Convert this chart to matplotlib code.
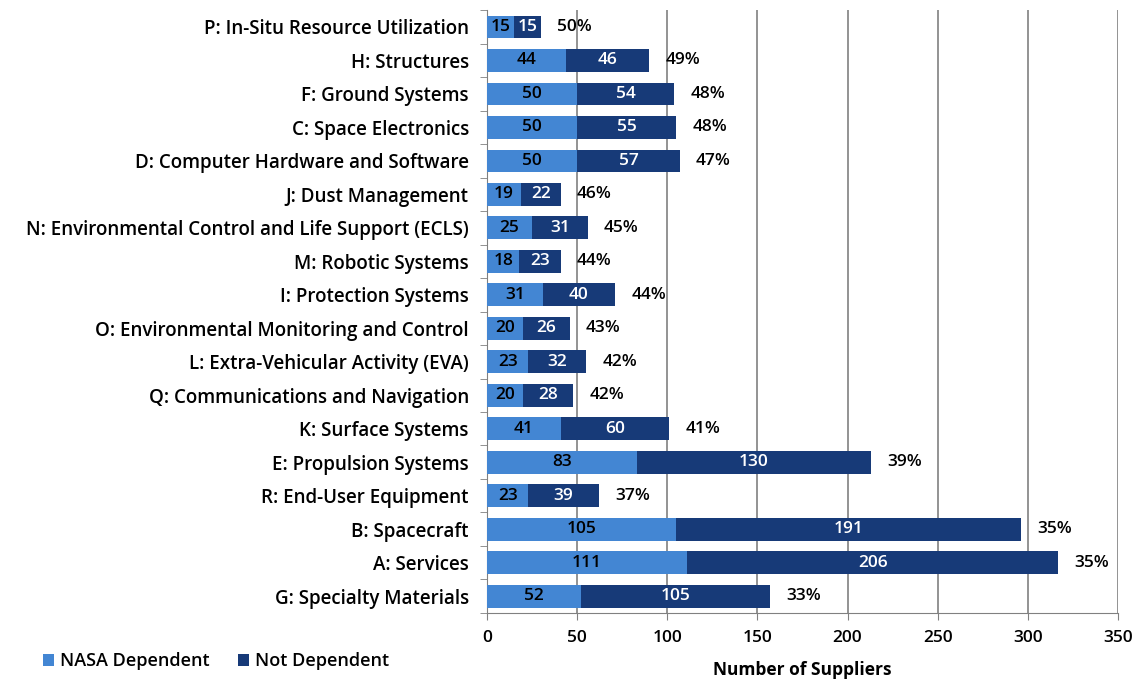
import numpy as np
import matplotlib.pyplot as plt

categories = ['P: In-Situ Resource Utilization', 'H: Structures', 'F: Ground Systems',
              'C: Space Electronics', 'D: Computer Hardware and Software', 'J: Dust Management',
              'N: Environmental Control and Life Support (ECLS)', 'M: Robotic Systems',
              'I: Protection Systems', 'O: Environmental Monitoring and Control',
              'L: Extra-Vehicular Activity (EVA)', 'Q: Communications and Navigation',
              'K: Surface Systems', 'E: Propulsion Systems', 'R: End-User Equipment',
              'B: Spacecraft', 'A: Services', 'G: Specialty Materials']
nasa_dependent = [15, 44, 50, 50, 50, 19, 25, 18, 31, 20, 23, 20, 41, 83, 23, 105, 111, 52]
not_dependent = [15, 46, 54, 55, 57, 22, 31, 23, 40, 26, 32, 28, 60, 130, 39, 191, 206, 105]
pct_labels = ['50%', '49%', '48%', '48%', '47%', '46%', '45%', '44%', '44%', '43%',
              '42%', '42%', '41%', '39%', '37%', '35%', '35%', '33%']

plt.rcParams['font.family'] = ['Open Sans', 'DejaVu Sans']
plt.rcParams['font.size'] = 12.5
plt.rcParams['font.weight'] = 'semibold'

light = '#4386d3'
dark = '#173a78'

fig = plt.figure(figsize=(11.35, 6.81), dpi=100)
ax = fig.add_axes([0.429, 0.10, 0.556, 0.885])

y = np.arange(len(categories))
ax.barh(y, nasa_dependent, height=0.68, color=light, label='NASA Dependent', zorder=3)
ax.barh(y, not_dependent, left=nasa_dependent, height=0.68, color=dark,
        label='Not Dependent', zorder=3)

for i in range(len(categories)):
    a, b = nasa_dependent[i], not_dependent[i]
    ax.text(a / 2, i, str(a), ha='center', va='center', color='black', zorder=4)
    ax.text(a + b / 2, i, str(b), ha='center', va='center', color='white', zorder=4)
    ax.text(a + b + 9, i, pct_labels[i], ha='left', va='center', color='black')

ax.set_xlim(0, 350)
ax.set_ylim(len(categories) - 0.5, -0.5)
ax.set_xticks(range(0, 351, 50))
ax.set_yticks(y)
ax.set_yticklabels(categories, fontsize=13.5)
ax.set_yticks(np.arange(-0.5, len(categories), 1), minor=True)
ax.tick_params(axis='y', which='major', length=0, pad=13)
ax.tick_params(axis='y', which='minor', length=5, color='#808080')
ax.tick_params(axis='x', length=5, color='#808080', pad=7)

ax.grid(axis='x', color='#808080', linewidth=1.2, zorder=0)
for s in ['top', 'right']:
    ax.spines[s].set_visible(False)
for s in ['left', 'bottom']:
    ax.spines[s].set_color('#808080')

ax.set_xlabel('Number of Suppliers', fontweight='bold', labelpad=11)

fig.legend(loc='lower left', bbox_to_anchor=(0.024, -0.008), ncol=2, frameon=False,
           handlelength=0.6, handleheight=0.6, handletextpad=0.3, columnspacing=1.6,
           prop={'weight': 'semibold', 'size': 13})

fig.savefig('out.png', dpi=100)
